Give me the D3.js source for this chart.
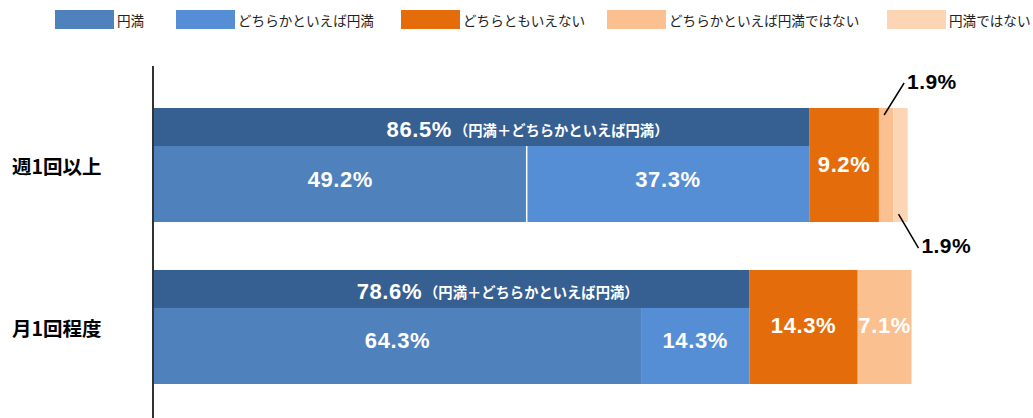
<!doctype html>
<html lang="ja">
<head>
<meta charset="utf-8">
<script src="https://d3js.org/d3.v7.min.js"></script>
<style>
  body { margin: 0; background: #fff; }
  svg { display: block; }
</style>
</head>
<body>
<svg id="svg"></svg>
<script>
// data
const categories = ["週1回以上", "月1回程度"];
const seriesNames = ["円満", "どちらかといえば円満", "どちらともいえない", "どちらかといえば円満ではない", "円満ではない"];
const seriesColors = ["#4f81bd", "#558ed5", "#e46c0a", "#fac090", "#fcd5b5"];
const values = [
  [49.2, 37.3, 9.2, 1.9, 1.9],
  [64.3, 14.3, 14.3, 7.1, 0]
];
const satisfiedTotal = [86.5, 78.6];
const totalNote = "（円満＋どちらかといえば円満）";

const width = 1033, height = 418;
const numFont = "'Liberation Sans', Arial, 'Noto Sans CJK JP', sans-serif";
const jpFont = "'Noto Sans CJK JP', sans-serif";

const svg = d3.select("#svg").attr("width", width).attr("height", height);

const x = d3.scaleLinear().domain([0, 100]).range([154, 911.5]);
const y = d3.scaleBand().domain(categories).range([108, 384]).paddingInner(0.296).paddingOuter(0);
const color = d3.scaleOrdinal().domain(seriesNames).range(seriesColors);

// legend
const legendX = [55, 176, 401, 607, 887];
const legend = svg.append("g");
seriesNames.forEach((name, i) => {
  legend.append("rect")
    .attr("x", legendX[i]).attr("y", 10)
    .attr("width", 59).attr("height", 19)
    .attr("fill", color(name));
  legend.append("text")
    .attr("x", legendX[i] + 62).attr("y", 20)
    .attr("dominant-baseline", "central")
    .attr("font-family", jpFont)
    .attr("font-size", 13.6)
    .attr("fill", "#222")
    .text(name);
});

// stacked rows
const rows = categories.map((c, i) => {
  let acc = 0;
  return values[i].map((v, j) => {
    const seg = { cat: c, row: i, key: seriesNames[j], idx: j, v: v, x0: acc, x1: acc + v };
    acc += v;
    return seg;
  }).filter(d => d.v > 0);
});

const bars = svg.append("g");
const bw = y.bandwidth();
const strip = bw / 3;

rows.forEach(row => {
  bars.selectAll(null)
    .data(row)
    .join("rect")
    .attr("x", d => x(d.x0))
    .attr("width", d => x(d.x1) - x(d.x0))
    .attr("y", d => d.idx < 2 ? y(d.cat) + strip : y(d.cat))
    .attr("height", d => d.idx < 2 ? bw - strip : bw)
    .attr("fill", d => color(d.key));
});

// white separator between blue segments in the first row
bars.append("line")
  .attr("x1", x(values[0][0])).attr("x2", x(values[0][0]))
  .attr("y1", y(categories[0]) + strip).attr("y2", y(categories[0]) + bw)
  .attr("stroke", "#fff").attr("stroke-width", 1.5);

// dark strip for 円満+どちらかといえば円満
bars.selectAll(".strip")
  .data(categories)
  .join("rect")
  .attr("class", "strip")
  .attr("x", x(0))
  .attr("width", (c, i) => x(satisfiedTotal[i]) - x(0))
  .attr("y", c => y(c))
  .attr("height", strip)
  .attr("fill", "#376092");

categories.forEach((c, i) => {
  const cx = (x(0) + x(satisfiedTotal[i])) / 2;
  const t = bars.append("text")
    .attr("x", cx - 95)
    .attr("y", y(c) + strip / 2 + 2)
    .attr("dominant-baseline", "central")
    .attr("fill", "#fff")
    .attr("font-weight", "bold");
  t.append("tspan").attr("font-family", numFont).attr("font-size", 22).attr("letter-spacing", 0.6)
    .text(satisfiedTotal[i].toFixed(1) + "%");
  t.append("tspan").attr("font-family", jpFont).attr("font-size", 14.3).attr("dx", 2).text(totalNote);
});

// value labels
const labels = svg.append("g");
const small = [];
rows.forEach(row => {
  row.forEach(d => {
    const cx = (x(d.x0) + x(d.x1)) / 2;
    if (d.v < 5) { small.push(d); return; }
    const cy = d.idx < 2 ? y(d.cat) + strip + (bw - strip) / 2 - 5 : y(d.cat) + bw / 2 - 1;
    labels.append("text")
      .attr("x", cx).attr("y", cy)
      .attr("text-anchor", "middle")
      .attr("dominant-baseline", "central")
      .attr("font-family", numFont)
      .attr("font-size", 22)
      .attr("font-weight", "bold")
      .attr("letter-spacing", 0.6)
      .attr("fill", "#fff")
      .text(d.v.toFixed(1) + "%");
  });
});

// small segments: leader lines outside the bar, alternating up / down
small.forEach((d, k) => {
  const cx = (x(d.x0) + x(d.x1)) / 2;
  const up = k % 2 === 0;
  const ya = up ? y(d.cat) + 7 : y(d.cat) + bw - 8;
  const xb = cx + 18;
  const yb = up ? y(d.cat) - 25 : y(d.cat) + bw + 26;
  labels.append("line")
    .attr("x1", cx - 2).attr("y1", ya)
    .attr("x2", xb).attr("y2", yb)
    .attr("stroke", "#000").attr("stroke-width", 1.5);
  labels.append("text")
    .attr("x", xb + 3).attr("y", up ? yb - 2 : yb - 3)
    .attr("dominant-baseline", "central")
    .attr("font-family", numFont)
    .attr("font-size", 21)
    .attr("font-weight", "bold")
    .attr("letter-spacing", 0.4)
    .attr("fill", "#000")
    .text(d.v.toFixed(1) + "%");
});

// category axis
svg.append("line")
  .attr("x1", 153).attr("x2", 153)
  .attr("y1", 66).attr("y2", height)
  .attr("stroke", "#333").attr("stroke-width", 2);

svg.append("g").selectAll("text")
  .data(categories)
  .join("text")
  .attr("x", 12)
  .attr("y", (c, i) => y(c) + bw / 2 + (i === 0 ? 0 : 1))
  .attr("dominant-baseline", "central")
  .attr("font-family", jpFont)
  .attr("font-size", 19.5)
  .attr("font-weight", "bold")
  .attr("fill", "#000")
  .text(c => c);
</script>
</body>
</html>
